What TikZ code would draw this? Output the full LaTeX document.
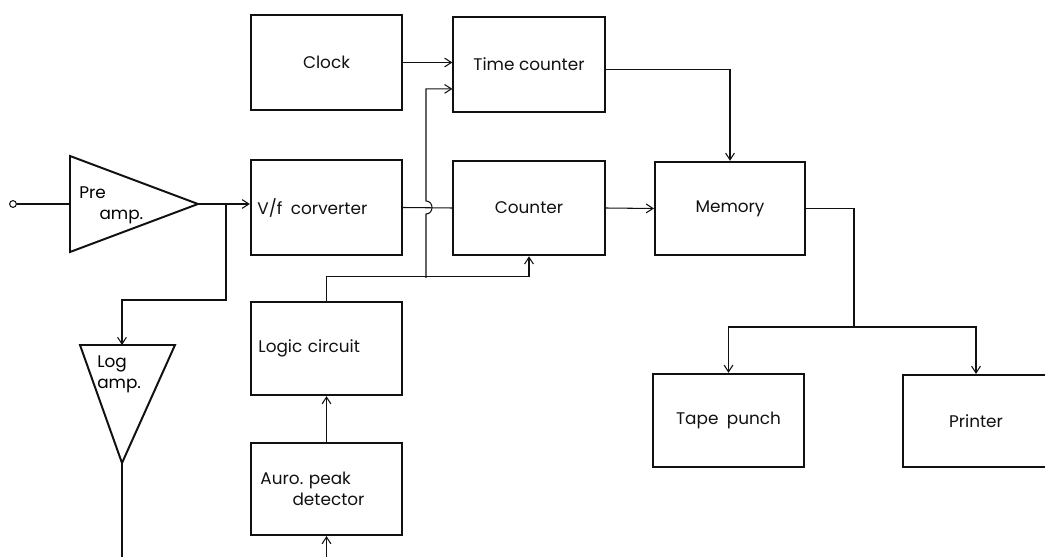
\documentclass[tikz,border=0pt]{standalone}
\usepackage{fontspec}
\setmainfont{Poppins}
\usepackage{tikz}
\usetikzlibrary{positioning,calc,arrows.meta}
\definecolor{Ink}{HTML}{111111}
\newcommand{\BlockBox}[4][]{%
\node[draw=Ink, line width=1.5pt, minimum width=3.78cm, minimum height=2.36cm,
      inner sep=3pt, text=Ink, #1] (#2) at #3 {#4};
}

\begin{document}
\begin{tikzpicture}[
    x=0.025cm,
    y=-0.025cm,
    every node/.style={font=\fontsize{12}{15}\selectfont},
    wire/.style={Ink, line width=0.75pt},
    feed/.style={wire, -{Straight Barb[length=1.7mm,width=2.2mm]}},
    amp/.style={draw=Ink, line width=1.4pt, line join=miter}
]
\useasboundingbox (0,0) rectangle (1045,557);

% Amplifiers
\coordinate (preA) at (70,156);
\coordinate (preB) at (70,252);
\coordinate (preTip) at (198,204);
\draw[amp] (preA) -- (preTip) -- (preB) -- cycle;
\node[anchor=west, align=left, inner sep=0pt] (preTxt) at (79,205) {Pre\\\hspace*{1.2em}amp.};

\coordinate (logA) at (80,345);
\coordinate (logB) at (175,345);
\coordinate (logTip) at (122,463);
\draw[amp] (logA) -- (logB) -- (logTip) -- cycle;
\node[anchor=north west, align=left, inner sep=0pt] (logTxt) at (97,355) {Log\\amp.};

\node[circle, draw=Ink, line width=0.75pt, minimum size=0.17cm, inner sep=0pt] (inp) at (13,204) {};

% Blocks
\BlockBox{clock}{(326.5,62.5)}{Clock}
\BlockBox{timec}{(529,64.5)}{Time counter}
\BlockBox[text width=3.45cm, align=left]{vf}{(326.5,207.5)}{V/f\enspace corverter}
\BlockBox{counter}{(529,208)}{Counter}
\BlockBox[minimum width=3.75cm, minimum height=2.33cm]{memory}{(730,208.5)}{Memory}
\BlockBox[text width=3.4cm, align=left, minimum height=2.33cm]{logic}{(326.5,348.5)}{Logic circuit}
\BlockBox[text width=3.3cm, align=left, minimum height=2.3cm]{peak}{(326.5,489)}{Auro.\ peak\\\hspace*{1.9em}detector}
\BlockBox[minimum height=2.33cm]{tape}{(728.5,420.5)}{Tape\enspace punch}
\BlockBox[minimum width=3.65cm, minimum height=2.3cm]{printer}{(976,421)}{Printer}

% Signal path
\draw[wire] (inp) -- (inp -| preA);
\coordinate (br) at (226,204);
\draw[feed] (preTip) -- (vf.west |- preTip);
\coordinate (logIn) at (122,345);
\draw[feed] (br) -- ++(0,96) -| (logIn);
\coordinate (logOut) at (122,557);
\draw[wire] (logTip) -- (logOut);

\coordinate (pkIn) at (326.5,557);
\draw[feed] (pkIn) -- (peak.south);
\draw[feed] (peak.north) -- (logic.south);

% Logic to counters (jump over V/f line)
\coordinate (jn) at (426,278);
\draw[feed] (logic.north) -- ++(0,-24) -| (counter.south);
\draw[wire] (vf.east) -- (counter.west);
\draw[feed] (jn) -- (426,214) .. controls (434,214) and (434,201) .. (426,201)
    |- ([yshift=-0.61cm]timec.west);
\draw[feed] (clock.east) -- (clock.east -| timec.west);

% Outputs
\draw[feed] ([yshift=-0.13cm]timec.east) -| (memory.north);
\draw[feed] (counter.east) -- (memory.west);
\coordinate (split) at (854,327);
\draw[wire] (memory.east) -| (split);
\draw[feed] (split) -| (tape.north);
\draw[feed] (split) -| (printer.north);

\end{tikzpicture}
\end{document}
